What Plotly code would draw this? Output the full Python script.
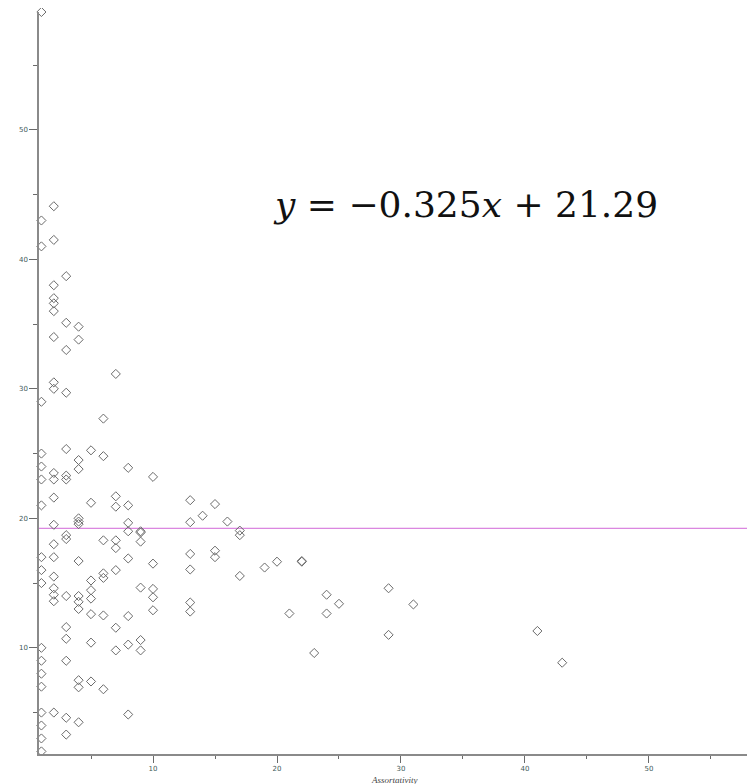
import plotly.graph_objects as go

# Data (x = assortativity, y = value)
y1 = [59.1, 43.0, 41.0, 29.0, 25.0, 24.0, 23.0, 21.0, 17.0, 16.0, 15.0, 10.0, 9.0, 8.0, 7.0, 5.0, 4.0, 3.0, 2.0]
y2 = [44.1, 41.5, 38.0, 37.0, 36.6, 36.0, 34.0, 30.5, 30.0, 23.5, 23.0, 21.6, 19.5, 18.0, 17.0, 15.5, 14.6, 14.1, 13.6, 5.0]
y3 = [38.7, 35.1, 33.0, 29.7, 25.35, 23.3, 23.0, 18.7, 18.4, 14.0, 11.6, 10.7, 9.0, 4.6, 3.3]
y4 = [34.8, 33.8, 24.5, 23.8, 20.0, 19.75, 19.55, 16.7, 14.0, 13.55, 13.0, 7.5, 6.95, 4.25]
y5 = [25.25, 21.2, 15.2, 14.45, 13.8, 12.6, 10.4, 7.4]
y6 = [27.7, 24.8, 18.3, 15.75, 15.4, 12.5, 6.8]
y7 = [31.15, 21.7, 20.9, 18.3, 17.7, 16.0, 11.55, 9.8]
y8 = [23.9, 21.0, 19.65, 19.0, 16.9, 12.45, 10.25, 4.85]
y9 = [19.0, 18.9, 18.2, 14.65, 10.6, 9.8]
y10 = [23.2, 16.5, 14.55, 13.9, 12.9]

x_rest = [13, 13, 13, 13, 13, 13, 14, 15, 15, 15, 16, 17, 17, 17, 19, 20, 21, 22, 22, 23, 24, 24, 25, 29, 29, 31, 41, 43]
y_rest = [21.4, 19.7, 17.25, 16.05, 13.5, 12.8, 20.2, 21.1, 17.5, 17.0, 19.75, 19.05, 18.7, 15.55, 16.2, 16.65, 12.65, 16.7, 16.65, 9.6, 14.1, 12.65, 13.4, 14.6, 11.0, 13.35, 11.3, 8.85]

mean_line = 19.23
x_ticks = [10, 20, 30, 40, 50]
y_ticks = [10, 20, 30, 40, 50]
equation = "<i>y</i> = −0.325<i>x</i> + 21.29"
x_title = "Assortativity"

xs, ys = [], []
for xv, yl in [(1, y1), (2, y2), (3, y3), (4, y4), (5, y5), (6, y6), (7, y7), (8, y8), (9, y9), (10, y10)]:
    xs += [xv]*len(yl)
    ys += yl
xs += x_rest
ys += y_rest

x_range = [0.806, 58.55]
y_range = [1.8, 59.1]

fig = go.Figure()
fig.add_trace(go.Scatter(
    x=x_range, y=[mean_line, mean_line], mode="lines",
    line=dict(color="#d266d8", width=1), hoverinfo="skip", cliponaxis=False))
fig.add_trace(go.Scatter(
    x=xs, y=ys, mode="markers", cliponaxis=False,
    marker=dict(symbol="diamond-open", size=7, color="#6a6a6a", line=dict(width=1, color="#6a6a6a"))))

axis_common = dict(showgrid=False, zeroline=False, showline=True, linecolor="#8a8a8a", linewidth=1.5,
                   ticks="outside", tickcolor="#6a6a6a", tickwidth=1,
                   tickfont=dict(family="DejaVu Sans", size=7, color="#3f5a5a"))

fig.update_xaxes(range=x_range, tickmode="array", tickvals=x_ticks, ticklen=7,
                 minor=dict(dtick=5, tick0=0, ticklen=3, ticks="outside", tickcolor="#6a6a6a", showgrid=False),
                 **axis_common)
fig.update_yaxes(range=y_range, tickmode="array", tickvals=y_ticks, ticklen=8,
                 minor=dict(dtick=5, tick0=0, ticklen=4, ticks="outside", tickcolor="#6a6a6a", showgrid=False),
                 **axis_common)

fig.add_annotation(text=equation, xref="paper", yref="paper", x=0.596, y=0.74,
                   xanchor="center", yanchor="middle", showarrow=False,
                   font=dict(family="DejaVu Serif", size=36, color="#111111"))
fig.add_annotation(text="<i>" + x_title + "</i>", xref="paper", yref="paper", x=0.497, y=-0.035,
                   xanchor="center", yanchor="middle", showarrow=False,
                   font=dict(family="Liberation Serif", size=9, color="#444444"))

# page body has an 8px default margin; margins below compensate so the plot area
# sits where it does in the reference window
fig.update_layout(width=747, height=784, margin=dict(l=31, r=0, t=4, b=38),
                  plot_bgcolor="white", paper_bgcolor="white", showlegend=False)

fig.write_html("out.html")
